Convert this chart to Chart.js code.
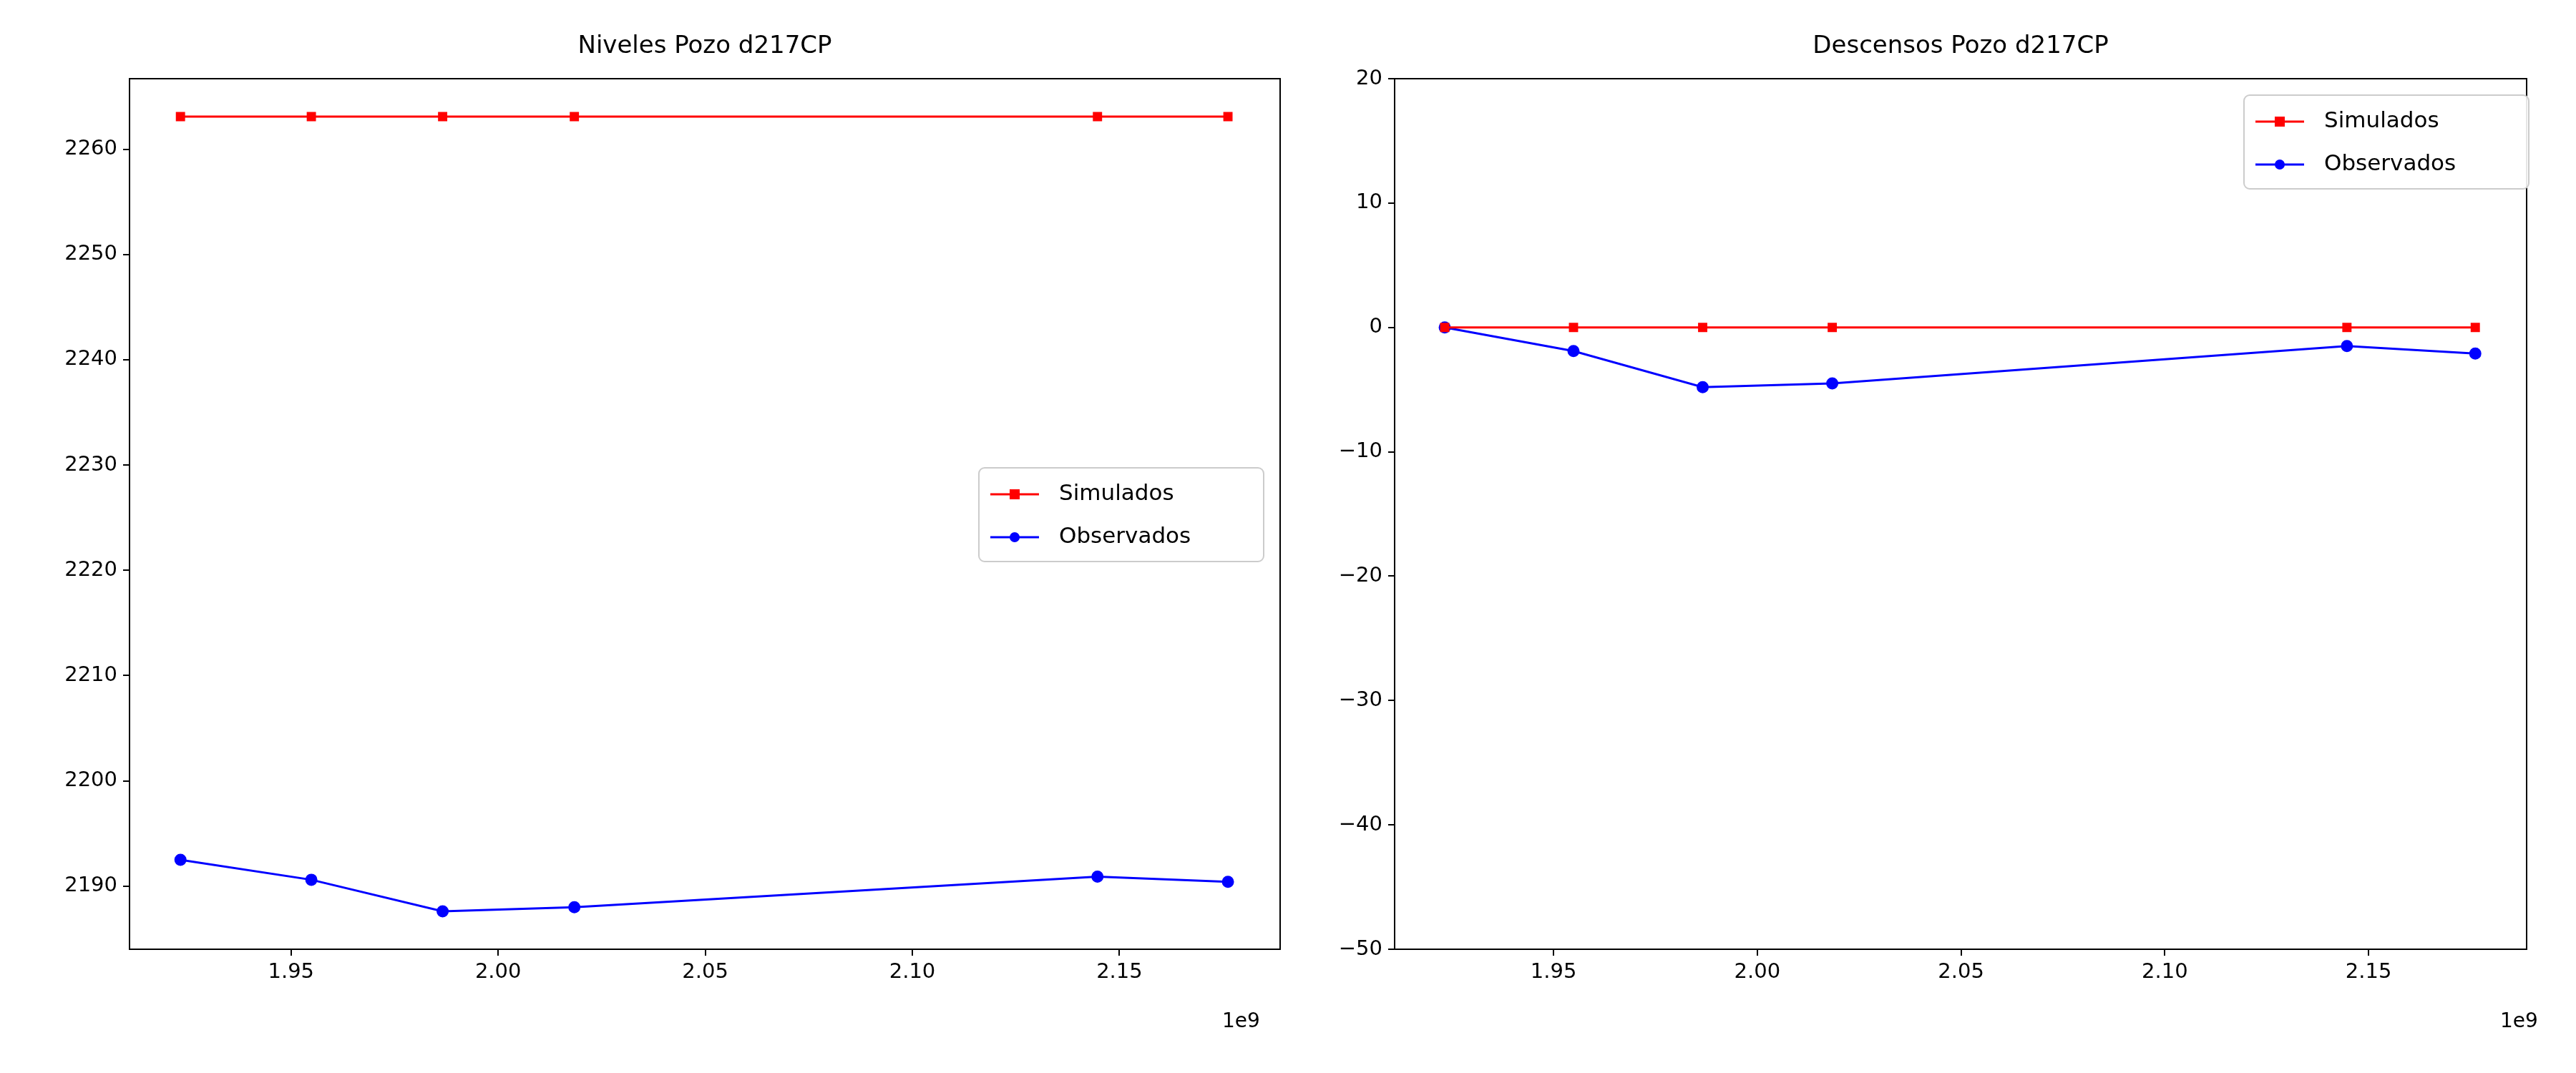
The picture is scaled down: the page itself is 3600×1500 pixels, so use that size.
<!DOCTYPE html>
<html>
<head>
<meta charset="utf-8">
<script src="https://cdn.jsdelivr.net/npm/chart.js@4/dist/chart.umd.min.js"></script>
<style>
  body { margin: 0; background: #fff; font-family: "DejaVu Sans", sans-serif; }
  .box { position: absolute; top: 0; width: 1800px; height: 1500px; }
  .title { position: absolute; font-size: 34px; color: #000; text-align: center; }
  .exp { position: absolute; font-size: 28px; color: #000; }
</style>
</head>
<body>
<div class="box" style="left:0"><canvas id="c1" width="1800" height="1500"></canvas></div>
<div class="box" style="left:1800px"><canvas id="c2" width="1800" height="1500"></canvas></div>
<div class="title" style="left:181px;width:1608px;top:42px">Niveles Pozo d217CP</div>
<div class="title" style="left:1949px;width:1582px;top:42px">Descensos Pozo d217CP</div>
<div class="exp" style="left:1708px;top:1410px">1e9</div>
<div class="exp" style="left:3494px;top:1410px">1e9</div>
<script>
// time values (seconds)
var times = [1.9233e9, 1.9549e9, 1.9866e9, 2.0184e9, 2.1447e9, 2.1762e9];
var xTicks = [1.95e9, 2.00e9, 2.05e9, 2.10e9, 2.15e9];

var nivelesSim = [2263.1, 2263.1, 2263.1, 2263.1, 2263.1, 2263.1];
var nivelesObs = [2192.5, 2190.6, 2187.6, 2188.0, 2190.9, 2190.4];
var nivelesTicks = [2190, 2200, 2210, 2220, 2230, 2240, 2250, 2260];

var descSim = [0, 0, 0, 0, 0, 0];
var descObs = [0, -1.9, -4.8, -4.5, -1.5, -2.1];
var descTicks = [-50, -40, -30, -20, -10, 0, 10, 20];

var seriesNames = ['Simulados', 'Observados'];

function pts(vals) {
  return vals.map(function(v, i) { return { x: times[i], y: v }; });
}

// frame + legend drawn on the canvas
function framePlugin(lg) {
  return {
    id: 'frame',
    afterDraw: function(chart) {
      var ctx = chart.ctx, a = chart.chartArea;
      ctx.save();
      ctx.strokeStyle = '#000';
      ctx.lineWidth = 2;
      ctx.strokeRect(a.left, a.top, a.right - a.left, a.bottom - a.top);
      // legend
      var x = lg.x, y = lg.y, w = 398, h = 131;
      ctx.fillStyle = 'rgba(255,255,255,0.9)';
      ctx.strokeStyle = '#ccc';
      ctx.beginPath();
      ctx.roundRect(x, y, w, h, 8);
      ctx.fill(); ctx.stroke();
      var colors = ['red', 'blue'];
      ctx.font = '31px "DejaVu Sans"';
      ctx.textBaseline = 'middle';
      for (var i = 0; i < 2; i++) {
        var cy = y + 37 + i * 60;
        ctx.strokeStyle = colors[i];
        ctx.fillStyle = colors[i];
        ctx.lineWidth = 3;
        ctx.beginPath(); ctx.moveTo(x + 16, cy); ctx.lineTo(x + 84, cy); ctx.stroke();
        if (i === 0) ctx.fillRect(x + 43, cy - 7, 14, 14);
        else { ctx.beginPath(); ctx.arc(x + 50, cy, 7, 0, Math.PI * 2); ctx.fill(); }
        ctx.fillStyle = '#000';
        ctx.fillText(seriesNames[i], x + 112, cy);
      }
      ctx.restore();
    }
  };
}

function makeChart(id, sim, obs, yMin, yMax, yTicks, yWidth, padRight, lg) {
  var tickFont = { family: 'DejaVu Sans', size: 29 };
  return new Chart(document.getElementById(id), {
    type: 'line',
    data: {
      datasets: [
        { label: seriesNames[0], data: pts(sim), borderColor: 'red', backgroundColor: 'red',
          borderWidth: 3, pointStyle: 'rect', pointRadius: 7, tension: 0 },
        { label: seriesNames[1], data: pts(obs), borderColor: 'blue', backgroundColor: 'blue',
          borderWidth: 3, pointStyle: 'circle', pointRadius: 7, tension: 0 }
      ]
    },
    options: {
      responsive: false,
      animation: false,
      layout: { padding: { top: 110, right: padRight, bottom: 113, left: 0 } },
      plugins: { legend: { display: false }, tooltip: { enabled: false } },
      scales: {
        x: {
          type: 'linear', min: 1.911e9, max: 2.1888e9,
          afterBuildTicks: function(s) { s.ticks = xTicks.map(function(v) { return { value: v }; }); },
          afterFit: function(s) { s.height = 60; },
          ticks: { font: tickFont, color: '#000', padding: 6,
                   callback: function(v) { return (v / 1e9).toFixed(2); } },
          grid: { drawOnChartArea: false, color: '#000', tickLength: 9, lineWidth: 2 },
          border: { color: '#000', width: 2 }
        },
        y: {
          min: yMin, max: yMax,
          afterBuildTicks: function(s) { s.ticks = yTicks.map(function(v) { return { value: v }; }); },
          afterFit: function(s) { s.width = yWidth; },
          ticks: { font: tickFont, color: '#000', padding: 8,
                   callback: function(v) { return v < 0 ? '\u2212' + Math.abs(v) : String(v); } },
          grid: { drawOnChartArea: false, color: '#000', tickLength: 9, lineWidth: 2 },
          border: { color: '#000', width: 2 }
        }
      }
    },
    plugins: [framePlugin(lg)]
  });
}

makeChart('c1', nivelesSim, nivelesObs, 2184.0, 2266.7, nivelesTicks, 181, 11, { x: 1368, y: 654 });
makeChart('c2', descSim, descObs, -50, 20, descTicks, 149, 69, { x: 1336, y: 133 });
</script>
</body>
</html>
